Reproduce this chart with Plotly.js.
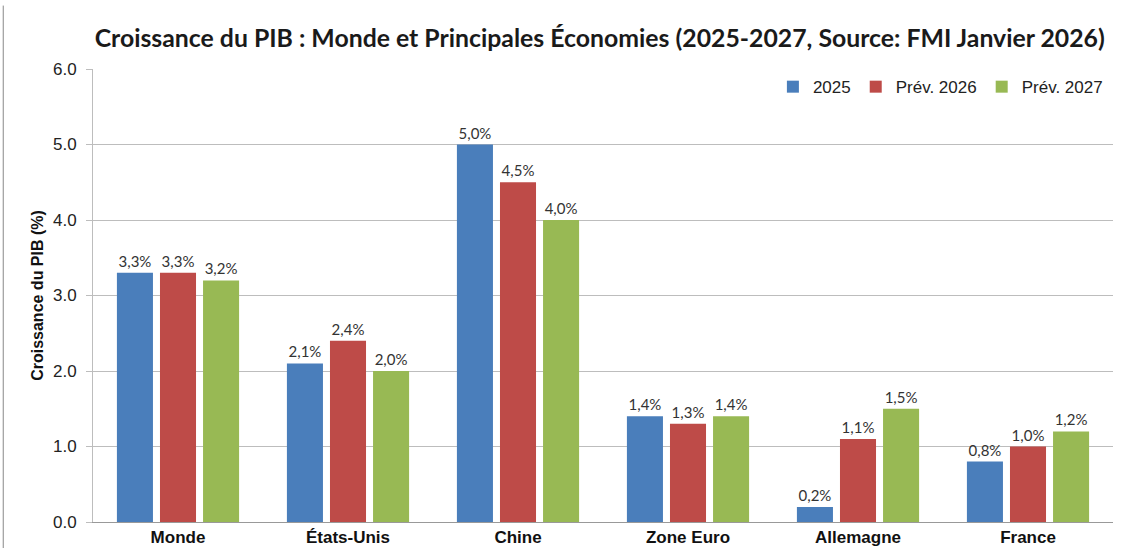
<!DOCTYPE html>
<html><head><meta charset="utf-8">
<script src="https://cdn.plot.ly/plotly-3.0.1.min.js"></script>
<style>html,body{margin:0;padding:0;background:#fff}#chart{width:1121px;height:548px}</style>
</head><body><div id="chart"></div>
<script>
const categories = ["Monde", "États-Unis", "Chine", "Zone Euro", "Allemagne", "France"];
const seriesNames = ["2025", "Prév. 2026", "Prév. 2027"];
const values2025 = [3.3, 2.1, 5.0, 1.4, 0.2, 0.8];
const values2026 = [3.3, 2.4, 4.5, 1.3, 1.1, 1.0];
const values2027 = [3.2, 2.0, 4.0, 1.4, 1.5, 1.2];
const yTicks = [0, 1, 2, 3, 4, 5, 6];
const colors = ["#4a7ebb", "#be4b48", "#98b954"];

const fmt = v => v.toFixed(1).replace('.', ',') + '%';
const allSeries = [values2025, values2026, values2027];
const traces = allSeries.map((vals, i) => ({
  type: 'bar', name: seriesNames[i], x: categories, y: vals,
  marker: {color: colors[i]},
  text: vals.map(fmt), textposition: 'outside', cliponaxis: false,
  textfont: {family: 'Lato, sans-serif', size: 15, color: '#333'},
  hoverinfo: 'x+y'
}));

const layout = {
  width: 1121, height: 548,
  margin: {l: 93, r: 8, t: 69, b: 26},
  paper_bgcolor: '#fff', plot_bgcolor: '#fff',
  barmode: 'group', bargap: 0.24, bargroupgap: 0.163,
  title: {text: '<b>Croissance du PIB : Monde et Principales Économies (2025-2027, Source: FMI Janvier 2026)</b>',
    font: {family: 'Lato, sans-serif', size: 24.8, color: '#1a1a1a'},
    x: 0.535, xanchor: 'center', xref: 'container', y: 0.93, yanchor: 'middle', yref: 'container'},
  xaxis: {tickfont: {family: 'Liberation Sans, Arial, sans-serif', size: 17, color: '#111', weight: 'bold'},
    showline: true, linecolor: '#999', linewidth: 1, ticks: '', showgrid: false},
  yaxis: {range: [0, 6], tickvals: yTicks, tickformat: '.1f',
    tickfont: {family: 'Liberation Sans, Arial, sans-serif', size: 17, color: '#222'},
    ticklabelstandoff: 6,
    showgrid: true, gridcolor: '#bdbdbd', gridwidth: 1,
    showline: true, linecolor: '#bdbdbd', ticks: 'outside', ticklen: 6, tickcolor: '#bdbdbd',
    zeroline: false,
    title: {text: '<b>Croissance du PIB (%)</b>', font: {family: 'Liberation Sans, Arial, sans-serif', size: 16, color: '#111'}, standoff: 5}},
  legend: {orientation: 'h', x: 0.995, xanchor: 'right', y: 0.96, yanchor: 'middle',
    font: {family: 'Liberation Sans, Arial, sans-serif', size: 17, color: '#222'}, bgcolor: 'rgba(0,0,0,0)',
    itemwidth: 30, traceorder: 'normal'},
  shapes: [{type: 'line', xref: 'paper', yref: 'paper', x0: -0.088, x1: -0.088, y0: -0.06, y1: 1.14,
    line: {color: '#888', width: 1}}],
  showlegend: true
};
Plotly.newPlot('chart', traces, layout, {displayModeBar: false, staticPlot: true});
</script></body></html>
